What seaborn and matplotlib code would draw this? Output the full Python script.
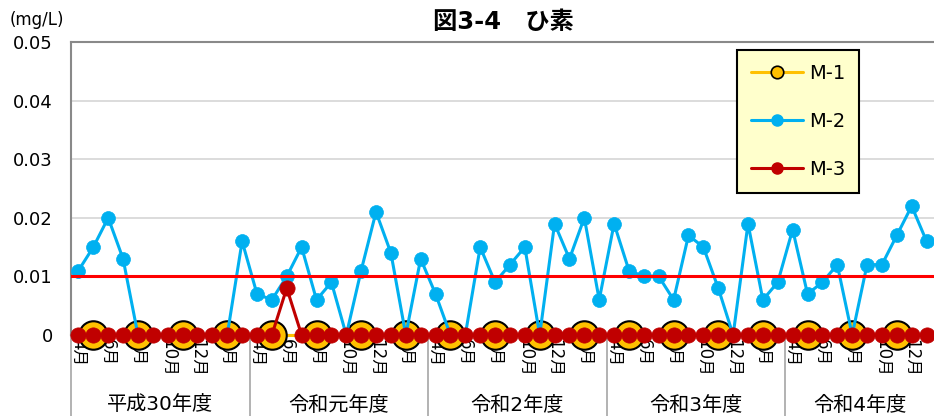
import numpy as np
import pandas as pd
import matplotlib
matplotlib.use('Agg')
import matplotlib.pyplot as plt
from matplotlib.lines import Line2D
import seaborn as sns

# fiscal years (April start) and monthly data, Apr 2018 - Jan 2023
years = ['平成30年度', '令和元年度', '令和2年度', '令和3年度', '令和4年度']
months = ['4月', '5月', '6月', '7月', '8月', '9月', '10月', '11月', '12月', '1月', '2月', '3月'] * 4 + \
         ['4月', '5月', '6月', '7月', '8月', '9月', '10月', '11月', '12月', '1月']

# M-1 is measured quarterly (May, Aug, Nov, Feb)
m1 = [np.nan, 0, np.nan, np.nan, 0, np.nan, np.nan, 0, np.nan, np.nan, 0, np.nan] * 4 + \
     [np.nan, 0, np.nan, np.nan, 0, np.nan, np.nan, 0, np.nan, np.nan]
m2 = [0.011, 0.015, 0.020, 0.013, 0, 0, 0, 0, 0, 0, 0, 0.016,
      0.007, 0.006, 0.010, 0.015, 0.006, 0.009, 0, 0.011, 0.021, 0.014, 0, 0.013,
      0.007, 0, 0, 0.015, 0.009, 0.012, 0.015, 0, 0.019, 0.013, 0.020, 0.006,
      0.019, 0.011, 0.010, 0.010, 0.006, 0.017, 0.015, 0.008, 0, 0.019, 0.006, 0.009,
      0.018, 0.007, 0.009, 0.012, 0, 0.012, 0.012, 0.017, 0.022, 0.016]
m3 = [0] * 14 + [0.008] + [0] * 43
standard = 0.01

df = pd.DataFrame({'idx': np.arange(len(months)), 'M-1': m1, 'M-2': m2, 'M-3': m3})

sns.set_style('white')
plt.rcParams['font.family'] = ['DejaVu Sans', 'Noto Sans CJK JP']
plt.rcParams['text.color'] = 'black'
plt.rcParams['xtick.labelcolor'] = 'black'
plt.rcParams['ytick.labelcolor'] = 'black'

fig = plt.figure(figsize=(9.34, 4.16), dpi=100)
ax = fig.add_axes([71 / 934, 81 / 416, 863 / 934, 293 / 416])
ax.set_axisbelow(True)

d1 = df.dropna(subset=['M-1'])
sns.lineplot(x=d1['idx'], y=d1['M-1'], ax=ax, color='#FFC000', linewidth=2.2,
             marker='o', markersize=20.5, markerfacecolor='#FFC000',
             markeredgecolor='black', markeredgewidth=1.5, clip_on=False, zorder=3)
sns.lineplot(x=df['idx'], y=df['M-2'], ax=ax, color='#00B0F0', linewidth=2.2,
             marker='o', markersize=10, markeredgecolor='#00B0F0',
             markeredgewidth=0.5, clip_on=False, zorder=4)
ax.axhline(standard, color='#FF0000', linewidth=2.2, zorder=5)
sns.lineplot(x=df['idx'], y=df['M-3'], ax=ax, color='#C00000', linewidth=2.2,
             marker='o', markersize=11, markeredgecolor='#C00000',
             markeredgewidth=0.5, clip_on=False, zorder=6)

ax.set_xlim(-0.5, -0.5 + 863 / 15.04)
ax.set_ylim(0, 0.05)
ax.set_yticks(np.arange(0, 0.051, 0.01))
ax.set_yticklabels(['0', '0.01', '0.02', '0.03', '0.04', '0.05'], fontsize=13)
ax.yaxis.grid(True, color='#D9D9D9', linewidth=1.3)
ax.tick_params(axis='y', length=5, width=1.2, color='#898989', pad=8)

# month labels every other month, separators between months
ax.set_xticks(df['idx'])
ax.set_xticklabels([m if i % 2 == 0 else '' for i, m in enumerate(months)],
                   rotation=-90, fontsize=12)
ax.tick_params(axis='x', length=0, pad=3)
ax.set_xticks(np.arange(-0.5, len(months), 1), minor=True)
ax.tick_params(axis='x', which='minor', length=36, width=1.2, color='#A6A6A6', direction='out')
ax.set_xlabel('')
ax.set_ylabel('')

for side in ['left', 'top', 'bottom']:
    ax.spines[side].set_color('#898989')
    ax.spines[side].set_linewidth(1.5)
ax.spines['right'].set_visible(False)

# fiscal year groups
trans = ax.get_xaxis_transform()
for k, name in enumerate(years):
    start = -0.5 + 12 * k
    end = min(start + 12, len(months) - 0.5)
    ax.plot([start, start], [0, -81 / 293], transform=trans, color='#A6A6A6',
            linewidth=1.2, clip_on=False)
    ax.text((start + end) / 2, -70 / 293, name, transform=trans, ha='center',
            va='center', fontsize=14.5)

fig.text(503 / 934, 1 - 22 / 416, '図3-4　ひ素', ha='center', va='center',
         fontsize=17.5, fontweight='bold')
fig.text(10 / 934, 1 - 20 / 416, '(mg/L)', ha='left', va='center', fontsize=12)

handles = [
    Line2D([], [], color='#FFC000', linewidth=2.2, marker='o', markersize=9,
           markerfacecolor='#FFC000', markeredgecolor='black', markeredgewidth=1.2),
    Line2D([], [], color='#00B0F0', linewidth=2.2, marker='o', markersize=8),
    Line2D([], [], color='#C00000', linewidth=2.2, marker='o', markersize=8),
]
leg = fig.legend(handles, ['M-1', 'M-2', 'M-3'], loc='upper left',
                 bbox_to_anchor=(737 / 934, 1 - 50 / 416), fontsize=14,
                 frameon=True, fancybox=False, framealpha=1, borderpad=0.7,
                 labelspacing=1.5, handlelength=2.7, handletextpad=0.3,
                 borderaxespad=0)
leg.get_frame().set_facecolor('#FFFFCC')
leg.get_frame().set_edgecolor('black')
leg.get_frame().set_linewidth(1.5)

fig.savefig('out.png', dpi=100)
